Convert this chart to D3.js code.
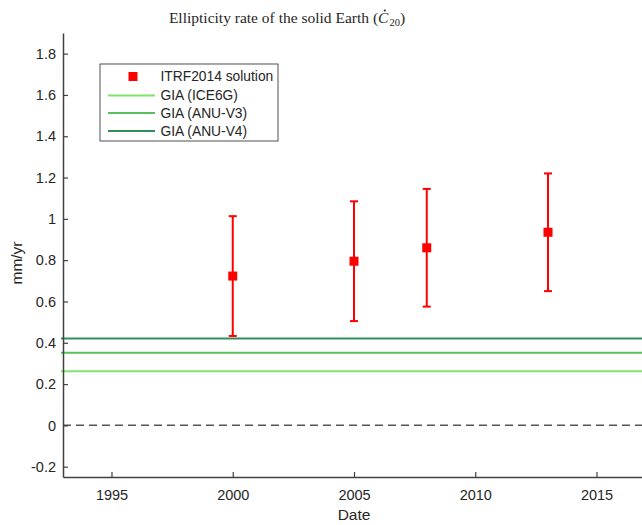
<!DOCTYPE html>
<html>
<head>
<meta charset="utf-8">
<script src="https://cdn.jsdelivr.net/npm/d3@7"></script>
<style>
  body { margin: 0; background: #fff; }
  text { font-family: "Liberation Sans", Arial, sans-serif; fill: #262626; }
</style>
</head>
<body>
<script>
//data
var years = [2000, 2005, 2008, 2013];
var rates = [0.723, 0.795, 0.86, 0.935];
var errs = [0.29, 0.29, 0.285, 0.285];
var giaNames = ["GIA (ICE6G)", "GIA (ANU-V3)", "GIA (ANU-V4)"];
var giaValues = [0.262, 0.352, 0.421];
var giaColors = ["#80e36a", "#57c15d", "#2f8f5b"];
var xTicks = [1995, 2000, 2005, 2010, 2015];
var yTicks = [-0.2, 0, 0.2, 0.4, 0.6, 0.8, 1, 1.2, 1.4, 1.6, 1.8];

var W = 642, H = 525;
var m = [33, 0, 48, 63]; //top right bottom left
var w = 582, h = H - m[0] - m[2];

var x = d3.scaleLinear().domain([1993, 2017]).range([0, w]);
var y = d3.scaleLinear().domain([-0.25, 1.9]).range([h, 0]);

var svg = d3.select("body").append("svg")
    .attr("width", W)
    .attr("height", H);

var g = svg.append("g")
    .attr("transform", "translate(" + m[3] + "," + m[0] + ")");

//zero line
g.append("line")
    .attr("x1", 0).attr("x2", w)
    .attr("y1", y(0)).attr("y2", y(0))
    .attr("stroke", "#555")
    .attr("stroke-width", 1.5)
    .attr("stroke-dasharray", "8,5");

//gia lines
g.append("g").selectAll("line")
    .data(giaValues)
    .enter().append("line")
    .attr("x1", -2).attr("x2", w)
    .attr("y1", function (d) { return y(d); })
    .attr("y2", function (d) { return y(d); })
    .attr("stroke", function (d, i) { return giaColors[i]; })
    .attr("stroke-width", 2);

//error bars
var pts = g.append("g").selectAll("g")
    .data(years)
    .enter().append("g");

pts.append("line")
    .attr("x1", function (d) { return x(d); })
    .attr("x2", function (d) { return x(d); })
    .attr("y1", function (d, i) { return y(rates[i] - errs[i]); })
    .attr("y2", function (d, i) { return y(rates[i] + errs[i]); })
    .attr("stroke", "red").attr("stroke-width", 2);

[-1, 1].forEach(function (s) {
  pts.append("line")
      .attr("x1", function (d) { return x(d) - 4; })
      .attr("x2", function (d) { return x(d) + 4; })
      .attr("y1", function (d, i) { return y(rates[i] + s * errs[i]); })
      .attr("y2", function (d, i) { return y(rates[i] + s * errs[i]); })
      .attr("stroke", "red").attr("stroke-width", 2);
});

pts.append("rect")
    .attr("x", function (d) { return x(d) - 4.5; })
    .attr("y", function (d, i) { return y(rates[i]) - 4.5; })
    .attr("width", 9).attr("height", 9)
    .attr("fill", "red");

//axes
var yAxis = d3.axisLeft(y).tickValues(yTicks).tickSizeInner(-5).tickSizeOuter(0).tickPadding(7)
    .tickFormat(function (d) { return String(+d.toFixed(1)); });
var yg = g.append("g").call(yAxis);

var xAxis = d3.axisBottom(x).tickValues(xTicks).tickSizeInner(-5).tickSizeOuter(0).tickPadding(13)
    .tickFormat(d3.format("d"));
var xg = g.append("g").attr("transform", "translate(0," + h + ")").call(xAxis);

[yg, xg].forEach(function (a) {
  a.select(".domain").attr("stroke", "#404040").attr("stroke-width", 1.5);
  a.selectAll(".tick line").attr("stroke", "#404040").attr("stroke-width", 1.2);
  a.selectAll(".tick text").attr("font-size", 14.5).attr("fill", "#262626")
      .attr("font-family", "'Liberation Sans', Arial, sans-serif");
});

//labels
svg.append("text")
    .attr("x", m[3] + w / 2).attr("y", 520)
    .attr("text-anchor", "middle")
    .attr("font-size", 15.5)
    .text("Date");

svg.append("text")
    .attr("transform", "translate(22,263) rotate(-90)")
    .attr("text-anchor", "middle")
    .attr("font-size", 15.5)
    .text("mm/yr");

var title = svg.append("text")
    .attr("x", 287).attr("y", 23)
    .attr("text-anchor", "middle")
    .attr("font-size", 15.5)
    .style("font-family", "'Liberation Serif', 'DejaVu Serif', serif");
var pre = "Ellipticity rate of the solid Earth (";
title.append("tspan").text(pre);
title.append("tspan").attr("font-style", "italic").text("C");
title.append("tspan").attr("dx", 1).attr("dy", 3).attr("font-size", 10.5).text("20");
title.append("tspan").attr("dy", -3).text(")");
// dot over the C (time derivative)
var cBox = title.node().getExtentOfChar(pre.length);
svg.append("circle")
    .attr("cx", cBox.x + cBox.width / 2 + 1.5)
    .attr("cy", 10.5)
    .attr("r", 1.1)
    .attr("fill", "#262626");

//legend
var lg = svg.append("g").attr("transform", "translate(100,64)");
lg.append("rect")
    .attr("width", 178).attr("height", 77)
    .attr("fill", "#fff").attr("stroke", "#262626").attr("stroke-width", 0.8);

var rowsY = [12.5, 31.5, 49, 67];
lg.append("rect").attr("x", 28.5).attr("y", rowsY[0] - 4.5)
    .attr("width", 9).attr("height", 9).attr("fill", "red");
lg.selectAll(".gl").data(giaNames).enter().append("line")
    .attr("x1", 8).attr("x2", 55)
    .attr("y1", function (d, i) { return rowsY[i + 1]; })
    .attr("y2", function (d, i) { return rowsY[i + 1]; })
    .attr("stroke", function (d, i) { return giaColors[i]; })
    .attr("stroke-width", 2);
lg.selectAll(".lt").data(["ITRF2014 solution"].concat(giaNames)).enter().append("text")
    .attr("x", 60.5)
    .attr("y", function (d, i) { return rowsY[i]; })
    .attr("dy", "0.35em")
    .attr("font-size", 13.8)
    .text(function (d) { return d; });
</script>
</body>
</html>
